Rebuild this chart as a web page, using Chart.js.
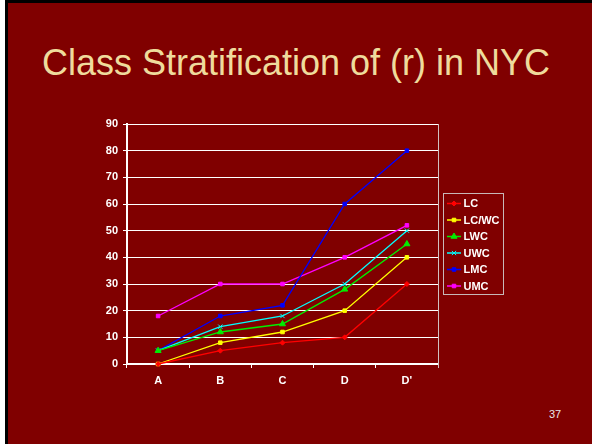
<!DOCTYPE html>
<html>
<head>
<meta charset="utf-8">
<script src="https://cdn.jsdelivr.net/npm/chart.js@4/dist/chart.umd.min.js"></script>
<style>
    html, body { margin: 0; padding: 0; background: #fff; }
    #slide {
        position: absolute; left: 5px; top: 0; width: 584px; height: 441px;
        background: #800000; border-left: 3px solid #000; border-top: 3px solid #000;
    }
    #title {
        position: absolute; left: 0; top: 42px; width: 592px; text-align: center;
        font-family: "Liberation Sans", Arial, sans-serif; font-size: 36px; color: #efdb9c;
        white-space: nowrap;
    }
    #pagenum {
        position: absolute; left: 549px; top: 408px;
        font-family: "Liberation Sans", Arial, sans-serif; font-size: 11px; color: #e8e8e8;
    }
    #chart { position: absolute; left: 0; top: 0; }
</style>
</head>
<body>
<div id="slide"></div>
<div id="title">Class Stratification of (r) in NYC</div>
<div id="pagenum">37</div>
<canvas id="chart" width="592" height="444"></canvas>
<script>
    // values
    const categories = ['A', 'B', 'C', 'D', "D'"];
    const seriesNames = ['LC', 'LC/WC', 'LWC', 'UWC', 'LMC', 'UMC'];
    const lcValues = [0, 5, 8, 10, 30];
    const lcwcValues = [0, 8, 12, 20, 40];
    const lwcValues = [5, 12, 15, 28, 45];
    const uwcValues = [5, 14, 18, 30, 50];
    const lmcValues = [5, 18, 22, 60, 80];
    const umcValues = [18, 30, 30, 40, 52];
    const yTicks = [0, 10, 20, 30, 40, 50, 60, 70, 80, 90];

    const seriesValues = [lcValues, lcwcValues, lwcValues, uwcValues, lmcValues, umcValues];
    const seriesColors = ['#ff0000', '#ffff00', '#00ee00', '#00ffff', '#0000ff', '#ff00ff'];
    const seriesMarkers = ['rectRot', 'rect', 'triangle', 'crossRot', 'rect', 'rect'];
    const markerSizes = [2.5, 2.5, 3.5, 3, 2.5, 2.5];

    const fontBold = {family: '"Liberation Sans", Arial, sans-serif', size: 11, weight: 'bold'};

    // right-hand border of the plot area
    const frameBorder = {
        id: 'frameBorder',
        beforeDatasetsDraw(chart) {
            const {ctx, chartArea} = chart;
            ctx.save();
            ctx.strokeStyle = '#d0c0c0';
            ctx.lineWidth = 1;
            ctx.beginPath();
            ctx.moveTo(chartArea.right + 0.5, chartArea.top);
            ctx.lineTo(chartArea.right + 0.5, chartArea.bottom + 4);
            ctx.stroke();
            ctx.restore();
        }
    };

    // boxed legend with line + marker for each series
    const boxLegend = {
        id: 'boxLegend',
        afterDraw(chart) {
            const {ctx, chartArea} = chart;
            const left = chartArea.right + 5.5;
            const top = 193.5;
            ctx.save();
            ctx.strokeStyle = '#c8b8b8';
            ctx.lineWidth = 1;
            ctx.strokeRect(left, top, 60, 101);
            chart.data.datasets.forEach((ds, i) => {
                const y = top + 10 + i * 16.5;
                ctx.strokeStyle = ds.borderColor;
                ctx.lineWidth = 1.5;
                ctx.beginPath();
                ctx.moveTo(left + 3.5, y);
                ctx.lineTo(left + 17.5, y);
                ctx.stroke();
                ctx.fillStyle = ds.backgroundColor;
                ctx.strokeStyle = ds.borderColor;
                ctx.lineWidth = 1;
                if (Chart.helpers && Chart.helpers.drawPoint) {
                    Chart.helpers.drawPoint(ctx, {pointStyle: ds.pointStyle, radius: ds.pointRadius, rotation: 0, borderWidth: 1}, left + 10.5, y);
                } else {
                    ctx.fillRect(left + 8.5, y - 2, 4, 4);
                }
                ctx.fillStyle = '#ffffff';
                ctx.font = 'bold 11px "Liberation Sans", Arial, sans-serif';
                ctx.textBaseline = 'middle';
                ctx.fillText(ds.label, left + 20, y + 0.5);
            });
            ctx.restore();
        }
    };

    new Chart(document.getElementById('chart').getContext('2d'), {
        type: 'line',
        data: {
            labels: categories,
            datasets: seriesNames.map((name, i) => ({
                label: name,
                data: seriesValues[i],
                borderColor: seriesColors[i],
                backgroundColor: seriesColors[i],
                borderWidth: 1.3,
                pointStyle: seriesMarkers[i],
                pointRadius: markerSizes[i],
                pointBorderWidth: 1,
                tension: 0,
                clip: false
            }))
        },
        options: {
            responsive: false,
            animation: false,
            layout: {padding: {left: 0, right: 154, top: 124, bottom: 50}},
            plugins: {legend: {display: false}, tooltip: {enabled: false}},
            scales: {
                x: {
                    offset: true,
                    grid: {offset: true, drawOnChartArea: false, drawTicks: true, tickLength: 4, color: '#ffffff'},
                    border: {color: '#ffffff', width: 2},
                    ticks: {color: '#ffffff', font: fontBold, padding: 6, maxRotation: 0},
                    afterFit(scale) { scale.height = 30; }
                },
                y: {
                    min: 0,
                    max: 90,
                    afterBuildTicks(scale) { scale.ticks = yTicks.map(v => ({value: v})); },
                    grid: {color: '#ffffff', lineWidth: 1, tickLength: 4},
                    border: {color: '#ffffff', width: 2},
                    ticks: {color: '#ffffff', font: fontBold, padding: 5},
                    afterFit(scale) { scale.width = 127; }
                }
            }
        },
        plugins: [frameBorder, boxLegend]
    });
</script>
</body>
</html>
